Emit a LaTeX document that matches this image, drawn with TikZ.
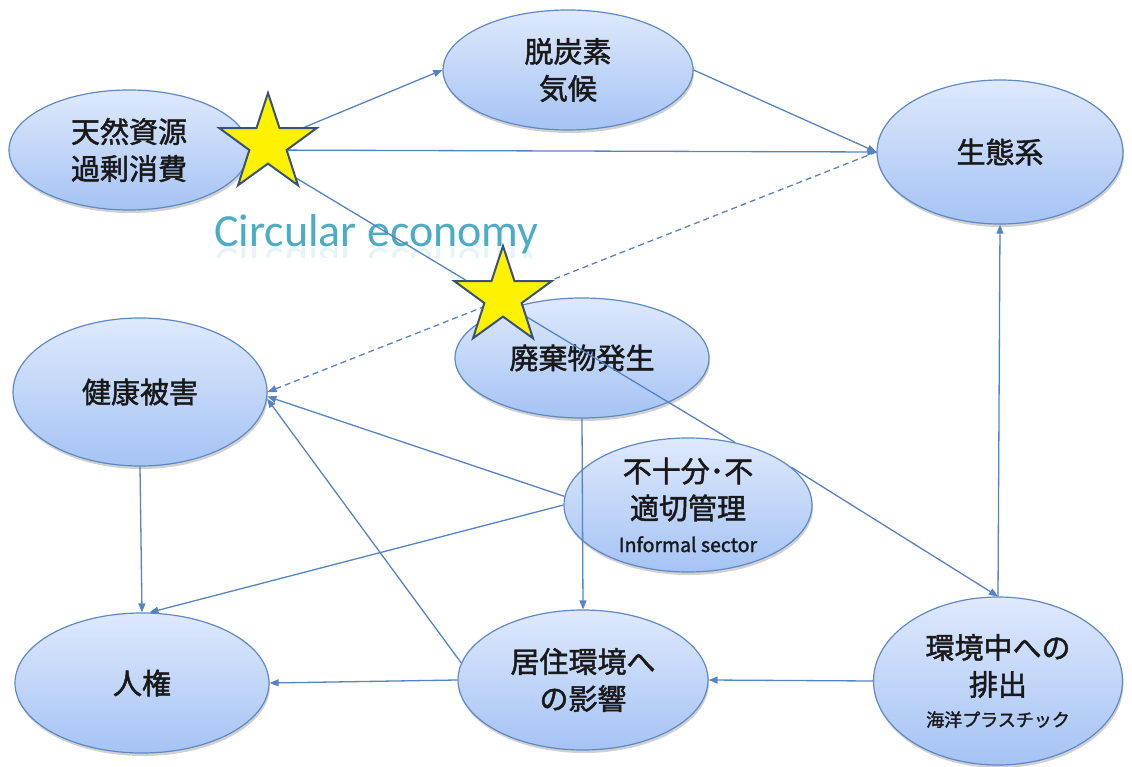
\documentclass[tikz,border=0pt]{standalone}
\usepackage{fontspec}
\usetikzlibrary{shapes.geometric,arrows.meta,shadows}
\newfontfamily\jp{Noto Sans CJK JP}[FakeBold=1.6]
\newfontfamily\calib{Carlito}
\definecolor{lineblue}{RGB}{86,132,194}
\definecolor{ellborder}{RGB}{95,137,196}
\definecolor{elltop}{RGB}{222,233,252}
\definecolor{ellbot}{RGB}{165,195,244}
\definecolor{starborder}{RGB}{58,82,122}
\definecolor{teal}{RGB}{75,172,198}
\definecolor{txt}{RGB}{25,25,25}
\tikzset{
  ell/.style={ellipse, draw=ellborder, line width=1.2pt, top color=elltop, bottom color=ellbot,
    inner sep=0pt, align=center, text=txt, font=\jp\fontsize{29}{37}\selectfont,
    drop shadow={shadow xshift=1pt, shadow yshift=-3pt, opacity=0.18, fill=black}},
  conn/.style={draw=lineblue, line width=1.3pt, -{Triangle[length=9pt,width=7pt]}},
  plain/.style={draw=lineblue, line width=1.3pt},
  bigstar/.style={star, star points=5, star point ratio=2.6, minimum size=102pt, inner sep=0pt,
    fill=yellow, draw=starborder, line width=2pt}
}
\begin{document}
\begin{tikzpicture}[x=1pt,y=1pt]
\useasboundingbox[fill=white] (0,0) rectangle (1132,-767);

% Circular economy label with faint reflection
\node[anchor=base west, inner sep=0pt, text=teal, font=\calib\fontsize{46}{50}\selectfont] (ce) at (214,-247) {Circular economy};
\begin{scope}
  \clip (200,-248) rectangle (560,-258);
  \begin{scope}[shift={(214,-249)}, yscale=-1]
    \node[transform shape, anchor=base west, inner sep=0pt, text=teal, opacity=0.13, font=\calib\fontsize{46}{50}\selectfont] (cer) at (0,0) {Circular economy};
  \end{scope}
\end{scope}

% nodes
\node[ell, minimum width=240pt, minimum height=120pt] (tennen) at (129,-150) {天然資源\\過剰消費};
\node[ell, minimum width=250pt, minimum height=120pt] (datsu) at (568,-70) {脱炭素\\気候};
\node[ell, minimum width=246pt, minimum height=144pt] (seitai) at (1000,-152) {生態系};
\node[ell, minimum width=254pt, minimum height=120pt] (haiki) at (582,-358) {廃棄物発生};
\node[ell, minimum width=254pt, minimum height=148pt] (kenko) at (140,-392) {健康被害};
\node[ell, minimum width=248pt, minimum height=134pt] (fuju) at (688,-505)
  {不十分･不\\適切管理\\[-4pt]{\fontsize{19.5}{22}\selectfont Informal sector}};
\node[ell, minimum width=254pt, minimum height=140pt] (jinken) at (142,-683) {人権};
\node[ell, minimum width=250pt, minimum height=140pt] (kyoju) at (583,-680) {居住環境へ\\の影響};
\node[ell, minimum width=249pt, minimum height=168pt] (kankyo) at (998,-681)
  {環境中への\\排出\\[-6pt]{\fontsize{18}{22}\selectfont 海洋プラスチック}};

% connectors
\draw[conn] (tennen.east) -- (datsu.west);
\draw[conn] (tennen.east) -- (seitai.west);
\draw[plain] (tennen.east) -- (fuju.53);
\draw[conn] (datsu.east) -- (seitai.west);
\draw[conn, dashed, dash pattern=on 6pt off 4pt] (seitai.west) -- (kenko.east);
\draw[conn] (fuju.176) -- (kenko.-2);
\draw[conn] (fuju.west) -- (jinken.84);
\draw[conn] (kenko.south) -- (jinken.north);
\draw[conn] (kyoju.west) -- (jinken.east);
\draw[conn] (kyoju.172) -- (kenko.-3);
\draw[conn] (haiki.south) -- (kyoju.north);
\draw[conn] (fuju.20) -- (kankyo.north);
\draw[conn] (kankyo.north) -- (seitai.south);
\draw[conn] (kankyo.west) -- (kyoju.east);

% stars
\node[bigstar] (star1) at (268,-144) {};
\node[bigstar] (star2) at (503,-297) {};
\end{tikzpicture}
\end{document}
